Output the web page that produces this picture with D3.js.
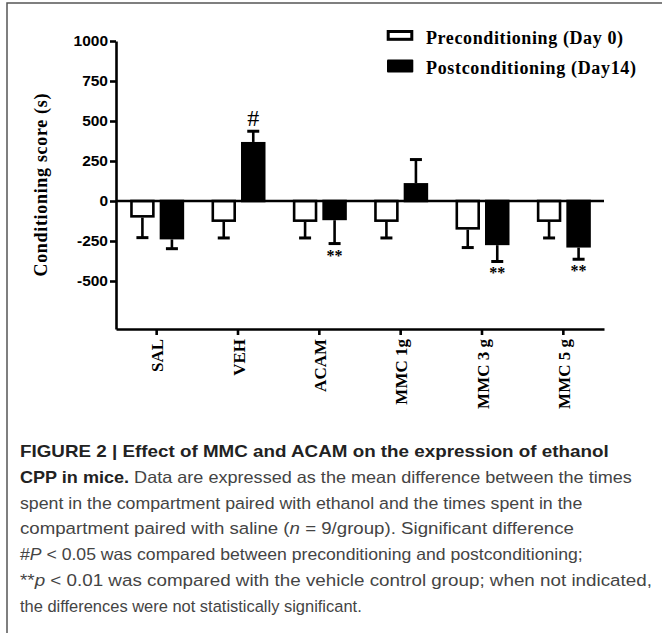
<!DOCTYPE html>
<html>
<head>
<meta charset="utf-8">
<script src="https://cdn.jsdelivr.net/npm/d3@7"></script>
<style>
  body { margin: 0; background: #fff; }
  .serif { font-family: "Liberation Serif", "Times New Roman", serif; font-weight: bold; }
  .sans { font-family: "Liberation Sans", Arial, sans-serif; }
</style>
</head>
<body>
<svg id="fig" width="662" height="633"></svg>
<script>
/*=====================================================================
 data
======================================================================*/
var groups = ["SAL", "VEH", "ACAM", "MMC 1g", "MMC 3 g", "MMC 5 g"];
var series = ["Preconditioning (Day 0)", "Postconditioning (Day14)"];

var preMean  = [-104, -131, -131, -131, -179, -131];
var preSem   = [125, 100, 100, 100, 112, 100];
var postMean = [-240, 369, -120, 112, -276, -291];
var postSem  = [58, 67, 146, 147, 102, 73];

var postMarks = ["", "#", "**", "", "**", "**"];
var yTicks = [-500, -250, 0, 250, 500, 750, 1000];

var captionLines = [
    [["b", "FIGURE 2 | Effect of MMC and ACAM on the expression of ethanol"]],
    [["b", "CPP in mice."], ["n", " Data are expressed as the mean difference between the times"]],
    [["n", "spent in the compartment paired with ethanol and the times spent in the"]],
    [["n", "compartment paired with saline ("], ["i", "n"], ["n", " = 9/group). Significant difference"]],
    [["n", "#"], ["i", "P"], ["n", " < 0.05 was compared between preconditioning and postconditioning;"]],
    [["n", "**"], ["i", "p"], ["n", " < 0.01 was compared with the vehicle control group; when not indicated,"]],
    [["n", "the differences were not statistically significant."]]
];
// how wide each caption line runs in the figure
var captionWidths = [589, 612, 563, 554, 563, 632, 342];

/*=====================================================================
 setup
======================================================================*/
var svg = d3.select("#fig");
var sw = 2.6; // line weight of the chart

// frame round the figure (top and left only)
svg.append("path")
    .attr("d", "M7,633V3H662")
    .attr("fill", "none")
    .attr("stroke", "#555")
    .attr("stroke-width", 1.5);

var y = d3.scaleLinear().domain([-800, 1000]).range([329, 41]);
var x0 = d3.scaleBand().domain(groups).range([116, 604]);
var x1 = d3.scaleBand().domain(series).range([-26.5, 27.5]).paddingInner(0.17);

var rows = groups.map(function (g, i) {
    return [
        {g: g, s: series[0], v: preMean[i], e: preSem[i], mark: ""},
        {g: g, s: series[1], v: postMean[i], e: postSem[i], mark: postMarks[i]}
    ];
});

/*=====================================================================
 axes
======================================================================*/
var yAxis = svg.append("g")
    .attr("transform", "translate(116,0)")
    .call(d3.axisLeft(y).tickValues(yTicks).tickSize(6).tickSizeOuter(0).tickPadding(2)
        .tickFormat(function (d) { return String(d); }));
yAxis.selectAll("path, line").attr("stroke", "#000").attr("stroke-width", sw);
yAxis.selectAll("text")
    .attr("class", "sans")
    .style("font-size", "15.5px")
    .style("font-weight", "bold")
    .attr("fill", "#000");

var xAxis = svg.append("g")
    .attr("transform", "translate(0," + y(-800) + ")")
    .call(d3.axisBottom(x0).tickSize(6).tickSizeOuter(0).tickFormat(""));
xAxis.selectAll("path, line").attr("stroke", "#000").attr("stroke-width", sw);

// rotated group labels
svg.append("g").selectAll("text")
    .data(groups)
    .enter().append("text")
    .attr("class", "serif")
    .attr("transform", function (d) {
        return "translate(" + (x0(d) + x0.bandwidth() / 2 + 6.5) + "," + (y(-800) + 10) + ") rotate(-90)";
    })
    .attr("text-anchor", "end")
    .style("font-size", "17px")
    .text(function (d) { return d; });

// y title
svg.append("text")
    .attr("class", "serif")
    .attr("transform", "translate(47," + ((y(1000) + y(-800)) / 2) + ") rotate(-90)")
    .attr("text-anchor", "middle")
    .style("font-size", "18px")
    .attr("textLength", 183)
    .attr("lengthAdjust", "spacing")
    .text("Conditioning score (s)");

/*=====================================================================
 bars and error bars
======================================================================*/
var grp = svg.append("g").selectAll("g")
    .data(rows)
    .enter().append("g")
    .attr("transform", function (d) { return "translate(" + (x0(d[0].g) + x0.bandwidth() / 2) + ",0)"; });

var bar = grp.selectAll("g.bar")
    .data(function (d) { return d; })
    .enter().append("g")
    .attr("class", "bar");

bar.append("rect")
    .attr("x", function (d) { return x1(d.s) + sw / 2; })
    .attr("width", x1.bandwidth() - sw)
    .attr("y", function (d) { return d.v >= 0 ? y(d.v) + sw / 2 : y(0); })
    .attr("height", function (d) { return Math.abs(y(d.v) - y(0)) - sw / 2; })
    .attr("fill", function (d) { return d.s === series[0] ? "#fff" : "#000"; })
    .attr("stroke", "#000")
    .attr("stroke-width", sw);

function errEnd(d) { return d.v >= 0 ? d.v + d.e : d.v - d.e; }

bar.append("line")
    .attr("x1", function (d) { return x1(d.s) + x1.bandwidth() / 2; })
    .attr("x2", function (d) { return x1(d.s) + x1.bandwidth() / 2; })
    .attr("y1", function (d) { return y(d.v); })
    .attr("y2", function (d) { return y(errEnd(d)); })
    .attr("stroke", "#000")
    .attr("stroke-width", sw);

bar.append("line")
    .attr("x1", function (d) { return x1(d.s) + x1.bandwidth() / 2 - 6; })
    .attr("x2", function (d) { return x1(d.s) + x1.bandwidth() / 2 + 6; })
    .attr("y1", function (d) { return y(errEnd(d)); })
    .attr("y2", function (d) { return y(errEnd(d)); })
    .attr("stroke", "#000")
    .attr("stroke-width", 3);

// significance marks
bar.filter(function (d) { return d.mark !== ""; })
    .append("text")
    .attr("x", function (d) { return x1(d.s) + x1.bandwidth() / 2; })
    .attr("y", function (d) { return d.v >= 0 ? y(errEnd(d)) - 5 : y(errEnd(d)) + 17; })
    .attr("text-anchor", "middle")
    .style("font-family", "'Liberation Serif', serif")
    .style("font-weight", function (d) { return d.mark === "#" ? "normal" : "bold"; })
    .style("font-size", function (d) { return d.mark === "#" ? "24px" : "16px"; })
    .text(function (d) { return d.mark; });

// zero line across the plot
svg.append("line")
    .attr("x1", 116).attr("x2", 604)
    .attr("y1", y(0)).attr("y2", y(0))
    .attr("stroke", "#000")
    .attr("stroke-width", sw);

/*=====================================================================
 legend
======================================================================*/
svg.append("rect")
    .attr("x", 388.2).attr("y", 31.5).attr("width", 23.6).attr("height", 7.8)
    .attr("fill", "#fff").attr("stroke", "#000").attr("stroke-width", 3);
svg.append("rect")
    .attr("x", 387).attr("y", 59.5).attr("width", 26.3).attr("height", 13)
    .attr("rx", 1)
    .attr("fill", "#000");

var legendWidths = [197, 210];
series.forEach(function (s, i) {
    svg.append("text")
        .attr("class", "serif")
        .attr("x", 426)
        .attr("y", 43.5 + i * 30)
        .style("font-size", "18px")
        .attr("textLength", legendWidths[i])
        .attr("lengthAdjust", "spacing")
        .text(s);
});

/*=====================================================================
 caption
======================================================================*/
captionLines.forEach(function (line, i) {
    var t = svg.append("text")
        .attr("class", "sans")
        .style("font-size", "16.5px");
    line.forEach(function (seg) {
        t.append("tspan")
            .style("font-weight", seg[0] === "b" ? "bold" : "normal")
            .style("font-style", seg[0] === "i" ? "italic" : "normal")
            .attr("fill", seg[0] === "b" ? "#222" : "#444")
            .text(seg[1]);
    });
    var k = captionWidths[i] / t.node().getComputedTextLength();
    t.attr("transform", "translate(20," + (457 + i * 25.8) + ") scale(" + k + ",1)");
});
</script>
</body>
</html>
